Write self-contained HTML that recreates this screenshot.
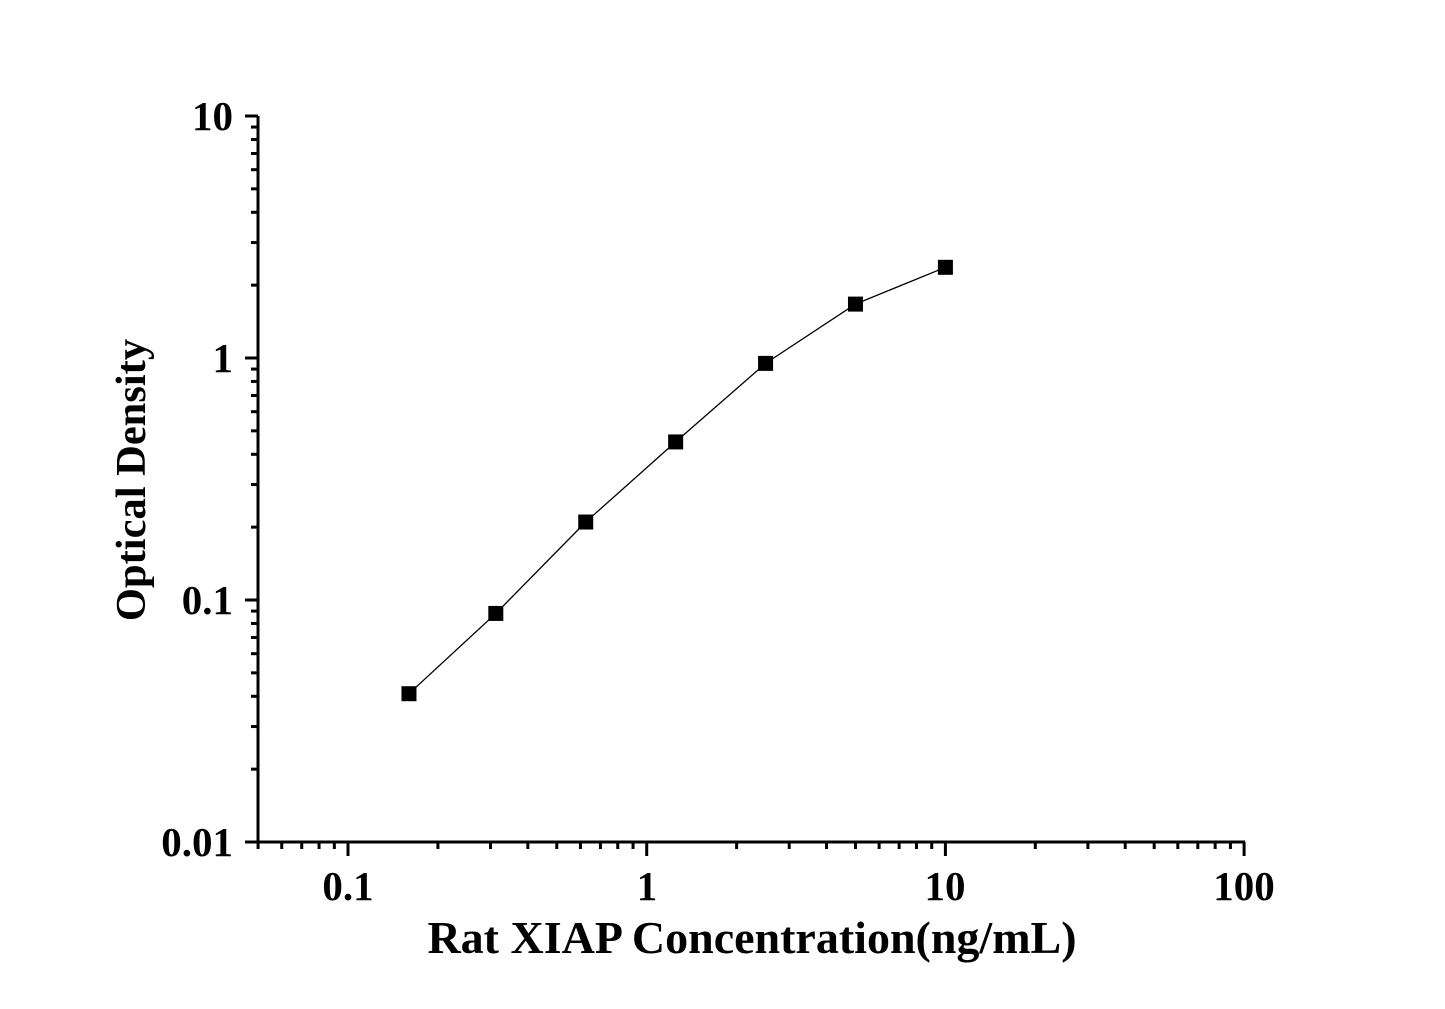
<!DOCTYPE html>
<html><head><style>body{margin:0;background:#fff}svg{display:block}text{font-family:"Liberation Serif",serif;font-weight:bold;fill:#000}</style></head>
<body>
<svg id="s" width="1445" height="1009" xmlns="http://www.w3.org/2000/svg">
<g font-size="41">
<text x="233" y="130" text-anchor="end">10</text>
<text x="233" y="372" text-anchor="end">1</text>
<text x="233" y="614" text-anchor="end">0.1</text>
<text x="233" y="856" text-anchor="end">0.01</text>
<text x="348" y="900" text-anchor="middle">0.1</text>
<text x="647" y="900" text-anchor="middle">1</text>
<text x="945" y="900" text-anchor="middle">10</text>
<text x="1244" y="900" text-anchor="middle">100</text>
</g>
<text x="752" y="953" font-size="46" text-anchor="middle">Rat XIAP Concentration(ng/mL)</text>
<text transform="translate(145,480) rotate(-90)" font-size="42.5" text-anchor="middle">Optical Density</text>
<g id="ax" stroke="#000" stroke-width="3" fill="none">
<line x1="258" y1="116" x2="258" y2="842"/>
<line x1="245" y1="842" x2="1245" y2="842"/>
</g>
<g id="pts"></g>
</svg>
<script>
var ns="http://www.w3.org/2000/svg",ax=document.getElementById("ax"),pg=document.getElementById("pts");
function X(v){return 348+298.7*Math.log10(v/0.1)}
function Y(v){return 600-242*Math.log10(v/0.1)}
function L(x1,y1,x2,y2,w){var l=document.createElementNS(ns,"line");l.setAttribute("x1",x1);l.setAttribute("y1",y1);l.setAttribute("x2",x2);l.setAttribute("y2",y2);if(w)l.setAttribute("stroke-width",w);ax.appendChild(l);}
for(var d=-2;d<=1;d++){for(var m=1;m<10;m++){var v=m*Math.pow(10,d);if(v>10.001)break;var y=Y(v);L(258,y,m==1?245:251,y);if(d==1)break;}}
for(var d=-2;d<=2;d++){for(var m=1;m<10;m++){var v=m*Math.pow(10,d);if(v<0.05-1e-9)continue;if(v>100.001)break;var x=X(v);L(x,842,x,m==1?856:849);if(d==2)break;}}
var data=[[0.16,0.041],[0.3125,0.088],[0.625,0.21],[1.25,0.45],[2.5,0.95],[5,1.67],[10,2.37]];
var p=document.createElementNS(ns,"polyline");p.setAttribute("points",data.map(function(a){return X(a[0])+","+Y(a[1])}).join(" "));p.setAttribute("fill","none");p.setAttribute("stroke","#000");p.setAttribute("stroke-width","1.3");pg.appendChild(p);
data.forEach(function(a){var r=document.createElementNS(ns,"rect");r.setAttribute("x",X(a[0])-7.5);r.setAttribute("y",Y(a[1])-7.5);r.setAttribute("width",15);r.setAttribute("height",15);pg.appendChild(r);});
</script>
</body></html>
